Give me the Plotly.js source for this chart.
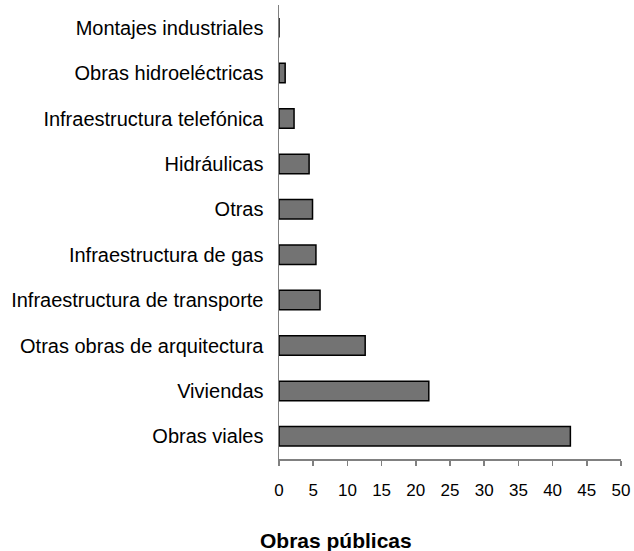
<!DOCTYPE html>
<html>
<head>
<meta charset="utf-8">
<script src="https://cdn.plot.ly/plotly-3.0.1.min.js"></script>
<style>html,body{margin:0;padding:0;background:#fff;}#chart{width:634px;height:551px;}</style>
</head>
<body>
<div id="chart"></div>
<script>
const categories = ["Montajes industriales","Obras hidroeléctricas","Infraestructura telefónica","Hidráulicas","Otras","Infraestructura de gas","Infraestructura de transporte","Otras obras de arquitectura","Viviendas","Obras viales"];
const values = [0, 0.9, 2.2, 4.4, 4.9, 5.4, 6.0, 12.6, 21.9, 42.6];
const tickValues = [0,5,10,15,20,25,30,35,40,45,50];
const xTitle = 'Obras públicas';

const trace = {
  type: 'bar',
  orientation: 'h',
  x: values,
  y: categories,
  width: 0.43,
  marker: {color: '#737373', line: {color: '#000000', width: 1.5}},
  hoverinfo: 'x+y'
};

const layout = {
  width: 634, height: 551,
  margin: {l: 279, r: 13, t: 5, b: 92},
  paper_bgcolor: '#ffffff', plot_bgcolor: '#ffffff',
  font: {family: 'Liberation Sans, Arial, sans-serif', size: 16, color: '#000000'},
  showlegend: false,
  xaxis: {
    range: [0, 50], tickvals: tickValues, ticktext: tickValues.map(String),
    showgrid: false, zeroline: false,
    showline: true, linecolor: '#808080', linewidth: 1.5,
    ticks: 'outside', ticklen: 5, tickcolor: '#808080', tickwidth: 1.5,
    ticklabelstandoff: 10,
    tickfont: {size: 17}
  },
  yaxis: {
    type: 'category', categoryorder: 'array', categoryarray: categories,
    autorange: 'reversed',
    showgrid: false, zeroline: false,
    showline: true, linecolor: '#808080', linewidth: 1.5,
    ticks: '', ticklabelstandoff: 10,
    tickfont: {size: 20}
  },
  annotations: [{
    text: xTitle, xref: 'paper', yref: 'paper', x: 0.167, y: -0.18,
    xanchor: 'center', yanchor: 'middle', showarrow: false,
    font: {size: 21, family: 'Liberation Sans, Arial, sans-serif', weight: 'bold', color: '#000000'}
  }]
};

Plotly.newPlot('chart', [trace], layout, {displayModeBar: false, staticPlot: true});
</script>
</body>
</html>
